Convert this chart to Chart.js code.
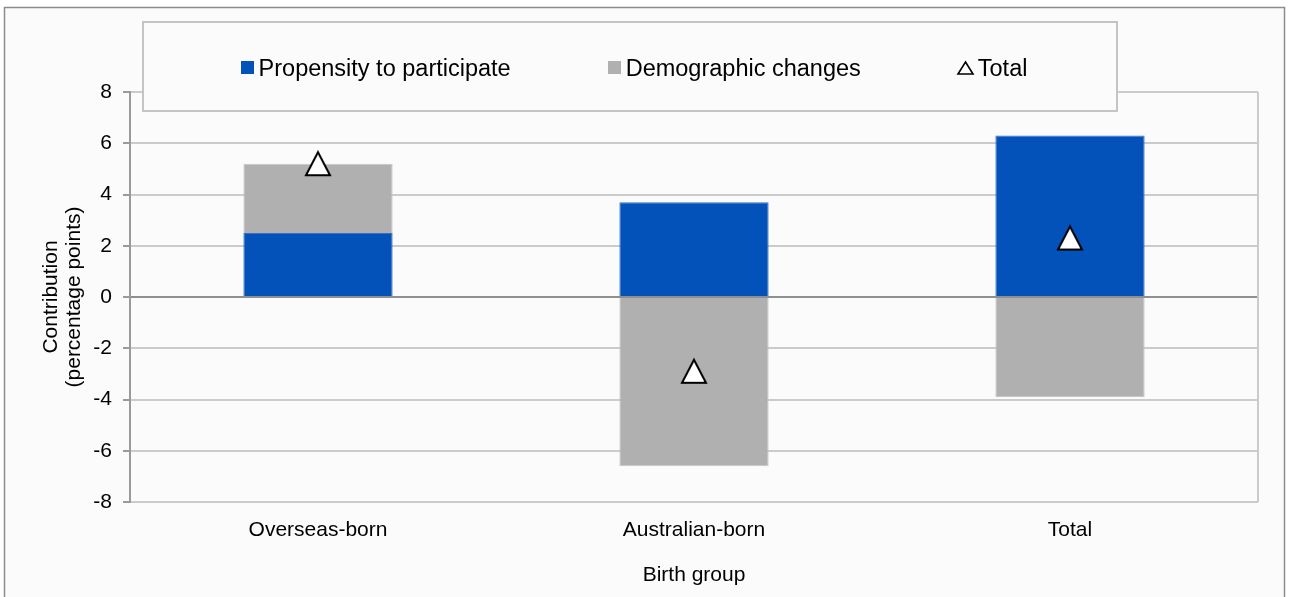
<!DOCTYPE html>
<html>
<head>
<meta charset="utf-8">
<script src="https://cdn.jsdelivr.net/npm/chart.js@4/dist/chart.umd.min.js"></script>
<style>
  html, body { margin: 0; padding: 0; background: #fff; }
</style>
</head>
<body>
<canvas id="chart" width="1290" height="597"></canvas>
<script>
const categories = ["Overseas-born", "Australian-born", "Total"];
const propensity = [2.5, 3.7, 6.3];
const demographic = [2.7, -6.6, -3.9];
const totals = [5.2, -2.9, 2.3];
const yTicks = [-8, -6, -4, -2, 0, 2, 4, 6, 8];

const BLUE = "#0352b9";
const GREY = "#b0b0b0";
const FONT = "'Liberation Sans', Arial, sans-serif";
const TEXT = "#000";

// triangle marker, centred on its bounding box like the spreadsheet marker
function triangle(w, h, lw) {
  const c = document.createElement("canvas");
  c.width = Math.ceil(w + lw * 2 + 2);
  c.height = Math.ceil(h + lw * 2 + 2);
  const ctx = c.getContext("2d");
  const cx = c.width / 2, cy = c.height / 2;
  ctx.beginPath();
  ctx.moveTo(cx, cy - h / 2);
  ctx.lineTo(cx + w / 2, cy + h / 2);
  ctx.lineTo(cx - w / 2, cy + h / 2);
  ctx.closePath();
  ctx.fillStyle = "#fff";
  ctx.fill();
  ctx.lineWidth = lw;
  ctx.strokeStyle = "#000";
  ctx.stroke();
  return c;
}
const bigTriangle = triangle(24, 23, 2);
const smallTriangle = triangle(15, 12, 1.6);

const frame = {
  id: "frame",
  beforeDraw(chart) {
    const ctx = chart.ctx;
    ctx.save();
    ctx.fillStyle = "#fbfbfb";
    ctx.fillRect(4, 7, 1281, 600);
    ctx.strokeStyle = "#8c8c8c";
    ctx.lineWidth = 1.5;
    ctx.strokeRect(4.5, 7.5, 1280, 600);
    ctx.restore();
  },
  beforeDatasetsDraw(chart) {
    const { ctx, chartArea } = chart;
    ctx.save();
    ctx.strokeStyle = "#cbcbcb";
    ctx.lineWidth = 2;
    ctx.beginPath();
    ctx.moveTo(chartArea.right, chartArea.top);
    ctx.lineTo(chartArea.right, chartArea.bottom);
    ctx.stroke();
    ctx.restore();
  }
};

const legendBox = { left: 143, top: 22, right: 1117, bottom: 111 };
const boxLegend = {
  id: "boxLegend",
  afterDraw(chart) {
    const ctx = chart.ctx;
    const b = legendBox;
    ctx.save();
    ctx.fillStyle = "#fbfbfb";
    ctx.fillRect(b.left, b.top, b.right - b.left, b.bottom - b.top);
    ctx.strokeStyle = "#c4c4c4";
    ctx.lineWidth = 2;
    ctx.strokeRect(b.left, b.top, b.right - b.left, b.bottom - b.top);

    ctx.font = "23.5px " + FONT;
    ctx.textBaseline = "middle";
    const items = chart.data.datasets.map((ds) => {
      const isTri = ds.type === "line";
      const mw = isTri ? 16 : 13;
      const gap = isTri ? 4 : 5;
      return { ds, isTri, mw, gap, w: mw + gap + ctx.measureText(ds.label).width };
    });
    const spacing = 97;
    const total = items.reduce((s, i) => s + i.w, 0) + spacing * (items.length - 1);
    let x = (b.left + b.right) / 2 + 4 - total / 2;
    const y = 68;
    items.forEach((it) => {
      if (it.isTri) {
        ctx.drawImage(smallTriangle, Math.round(x + it.mw / 2 - smallTriangle.width / 2), Math.round(y - smallTriangle.height / 2));
      } else {
        ctx.fillStyle = it.ds.backgroundColor;
        ctx.fillRect(Math.round(x), 61, 13, 13);
      }
      ctx.fillStyle = TEXT;
      ctx.fillText(it.ds.label, x + it.mw + it.gap, y + 1.5);
      x += it.w + spacing;
    });
    ctx.restore();
  }
};

new Chart(document.getElementById("chart"), {
  type: "bar",
  data: {
    labels: categories,
    datasets: [
      {
        label: "Propensity to participate",
        data: propensity,
        backgroundColor: BLUE,
        borderColor: "#3a6fc4",
        borderWidth: 1,
        order: 1
      },
      {
        label: "Demographic changes",
        data: demographic,
        backgroundColor: GREY,
        borderColor: "#c6c6c6",
        borderWidth: 1,
        order: 1
      },
      {
        type: "line",
        label: "Total",
        data: totals,
        stack: "total",
        showLine: false,
        pointStyle: bigTriangle,
        pointRadius: 13,
        order: 0
      }
    ]
  },
  options: {
    responsive: false,
    animation: false,
    devicePixelRatio: 1,
    layout: { padding: { top: 92, right: 32, left: 0, bottom: 0 } },
    datasets: { bar: { barPercentage: 0.397, categoryPercentage: 1 } },
    plugins: { legend: { display: false }, tooltip: { enabled: false } },
    scales: {
      x: {
        stacked: true,
        grid: { display: false, drawTicks: false },
        border: { display: false },
        ticks: { color: TEXT, font: { family: FONT, size: 21 }, padding: 16, maxRotation: 0 },
        title: {
          display: true,
          text: "Birth group",
          color: TEXT,
          font: { family: FONT, size: 21 },
          padding: { top: 0, bottom: 9 }
        },
        afterFit(s) { s.height = 95; }
      },
      y: {
        stacked: true,
        min: -8,
        max: 8,
        afterBuildTicks(s) { s.ticks = yTicks.map((v) => ({ value: v })); },
        grid: {
          color: (c) => (c.tick && c.tick.value === 0 ? "#8f8f8f" : "#cbcbcb"),
          lineWidth: 2,
          tickLength: 7,
          tickColor: "#9a9a9a",
          tickWidth: 2
        },
        border: { color: "#9a9a9a", width: 2 },
        ticks: { color: TEXT, font: { family: FONT, size: 21 }, padding: 11 },
        title: {
          display: true,
          text: ["Contribution", "(percentage points)"],
          color: TEXT,
          font: { family: FONT, size: 21, lineHeight: 1.1 },
          padding: { top: 40, bottom: 0 }
        },
        afterFit(s) { s.width = 130; }
      }
    }
  },
  plugins: [frame, boxLegend]
});
</script>
</body>
</html>
